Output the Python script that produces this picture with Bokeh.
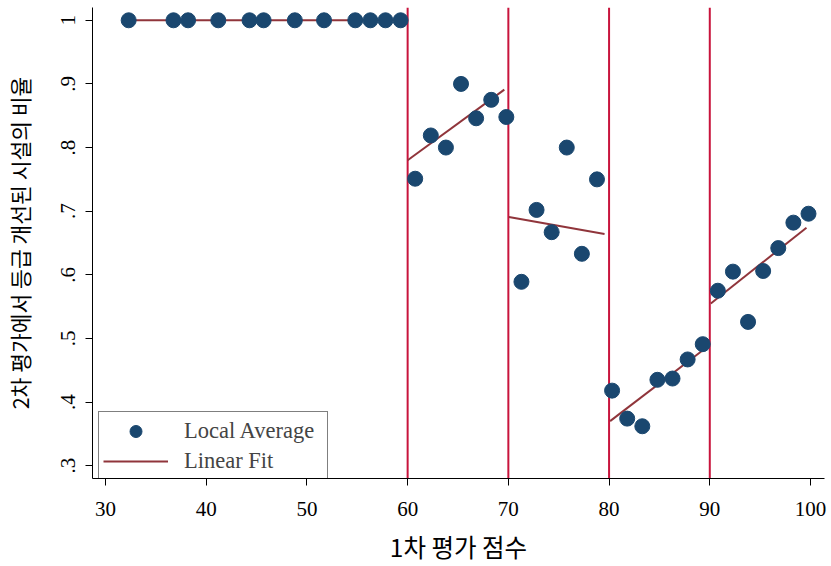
from bokeh.plotting import figure
from bokeh.models import Span, Legend, LegendItem, FixedTicker, Range1d
from bokeh.embed import file_html
from bokeh.resources import INLINE

# Local averages
avg_x = [32.3, 36.75, 38.2, 41.2, 44.3, 45.7, 48.8, 51.7, 54.8, 56.3, 57.8, 59.3,
         60.75, 62.3, 63.8, 65.3, 66.8, 68.3, 69.8,
         71.3, 72.8, 74.3, 75.8, 77.3, 78.8,
         80.3, 81.8, 83.3, 84.8, 86.3, 87.8, 89.3,
         90.8, 92.3, 93.8, 95.3, 96.8, 98.3, 99.8]
avg_y = [1.0, 1.0, 1.0, 1.0, 1.0, 1.0, 1.0, 1.0, 1.0, 1.0, 1.0, 1.0,
         0.751, 0.819, 0.800, 0.900, 0.846, 0.875, 0.848,
         0.589, 0.702, 0.667, 0.800, 0.633, 0.750,
         0.418, 0.374, 0.362, 0.435, 0.437, 0.467, 0.491,
         0.575, 0.605, 0.526, 0.606, 0.642, 0.682, 0.696]

# Linear fits per segment
fit_x0 = [32.5, 60.0, 70.05, 80.1, 90.1]
fit_y0 = [1.0, 0.780, 0.691, 0.370, 0.555]
fit_x1 = [59.1, 69.6, 79.55, 89.6, 99.6]
fit_y1 = [1.0, 0.891, 0.664, 0.485, 0.674]

cutoffs = [60, 70, 80, 90]

x_ticks = [30, 40, 50, 60, 70, 80, 90, 100]
y_ticks = [0.3, 0.4, 0.5, 0.6, 0.7, 0.8, 0.9, 1.0]
y_tick_labels = [".3", ".4", ".5", ".6", ".7", ".8", ".9", "1"]

x_title = "1차 평가 점수"
y_title = "2차 평가에서 등급 개선된 시설의 비율"
legend_labels = ["Local Average", "Linear Fit"]

NAVY = "#1A476F"
MAROON = "#90353B"
CRIMSON = "#C8143C"
SERIF = "Liberation Serif"
KFONT = "Noto Sans CJK KR"

p = figure(width=831, height=566, output_backend="svg", toolbar_location=None,
           x_range=Range1d(28.71, 101.39), y_range=Range1d(0.2799, 1.0201))
p.min_border_left = 92
p.min_border_right = 7
p.min_border_top = 7
p.min_border_bottom = 81
p.outline_line_color = None
p.background_fill_color = "white"
p.border_fill_color = "white"
p.xgrid.grid_line_color = None
p.ygrid.grid_line_color = None

for c in cutoffs:
    p.add_layout(Span(location=c, dimension="height", line_color=CRIMSON,
                      line_width=2, level="underlay"))

fit_r = p.multi_line(xs=[[a, b] for a, b in zip(fit_x0, fit_x1)],
                     ys=[[a, b] for a, b in zip(fit_y0, fit_y1)],
                     line_color=MAROON, line_width=2)
pts_r = p.scatter(avg_x, avg_y, size=15, fill_color=NAVY, line_color=NAVY)

# axes
for ax in (p.xaxis[0], p.yaxis[0]):
    ax.axis_line_color = "black"
    ax.major_tick_line_color = "black"
    ax.minor_tick_line_color = None
    ax.major_tick_out = 7
    ax.major_tick_in = 0
    ax.major_label_text_font = SERIF
    ax.major_label_text_font_size = "21px"
    ax.major_label_text_color = "black"
    ax.axis_label_text_font = KFONT
    ax.axis_label_text_font_style = "normal"
    ax.axis_label_text_color = "black"

p.xaxis.ticker = FixedTicker(ticks=x_ticks)
p.yaxis.ticker = FixedTicker(ticks=y_ticks)
p.yaxis.major_label_overrides = {t: l for t, l in zip(y_ticks, y_tick_labels)}
p.yaxis.major_label_orientation = "vertical"
p.xaxis.major_label_standoff = 16
p.yaxis.major_label_standoff = 10

p.xaxis.axis_label = x_title
p.xaxis.axis_label_text_font_size = "24.5px"
p.xaxis.axis_label_standoff = 10
p.yaxis.axis_label = y_title
p.yaxis.axis_label_text_font_size = "21.5px"
p.yaxis.axis_label_standoff = 24

legend = Legend(items=[LegendItem(label=legend_labels[0], renderers=[pts_r]),
                       LegendItem(label=legend_labels[1], renderers=[fit_r])],
                location=(6, -3))
legend.label_text_font = SERIF
legend.label_text_font_size = "22.5px"
legend.glyph_width = 65
legend.glyph_height = 30
legend.label_standoff = 16
legend.label_width = 139
legend.spacing = 0
legend.padding = 4
legend.margin = 0
legend.border_line_color = "black"
legend.border_line_width = 1
legend.background_fill_color = "white"
legend.background_fill_alpha = 1
p.add_layout(legend)

open("out.html", "w").write(file_html(p, INLINE))
